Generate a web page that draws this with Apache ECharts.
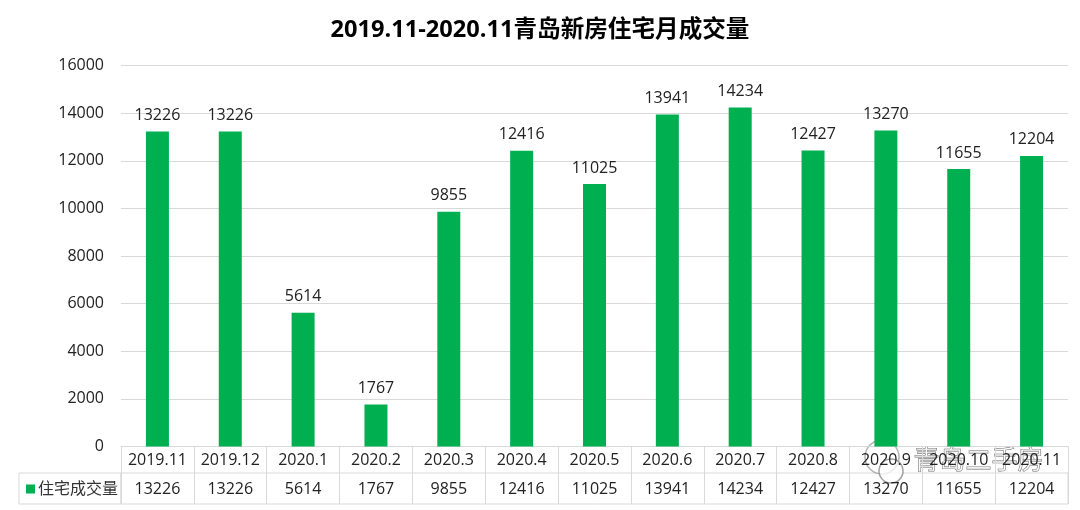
<!DOCTYPE html>
<html>
<head>
<meta charset="utf-8">
<style>
  html, body { margin: 0; padding: 0; background: #fff; }
  #main { width: 1080px; height: 510px; }
</style>
<script src="https://cdn.jsdelivr.net/npm/echarts@6/dist/echarts.min.js"></script>
</head>
<body>
<div id="main"></div>
<script>
const categories = ['2019.11', '2019.12', '2020.1', '2020.2', '2020.3', '2020.4', '2020.5', '2020.6', '2020.7', '2020.8', '2020.9', '2020.10', '2020.11'];
const sales = [13226, 13226, 5614, 1767, 9855, 12416, 11025, 13941, 14234, 12427, 13270, 11655, 12204];
const seriesName = '住宅成交量';
const titleText = '2019.11-2020.11青岛新房住宅月成交量';
const watermarkText = '青岛二手房';

const font = '"Open Sans", "Noto Sans CJK SC", sans-serif';
const lineColor = '#d9d9d9';
const textColor = '#222';

const myChart = echarts.init(document.getElementById('main'));

myChart.setOption({
    animation: false,
    textStyle: { fontFamily: font },
    title: {
        text: titleText,
        left: 'center',
        top: 13,
        textStyle: { fontFamily: font, fontSize: 23.6, fontWeight: 'bold', color: '#000' }
    },
    legend: {
        left: 26,
        top: 481,
        padding: 0,
        itemWidth: 9,
        itemHeight: 9,
        itemGap: 0,
        icon: 'rect',
        textStyle: { fontFamily: font, fontSize: 16, color: '#333', padding: [0, 0, 0, -2] },
        data: [seriesName]
    },
    grid: [
        { left: 121, right: 12, top: 65.5, height: 381 },
        { left: 121, right: 12, top: 473, height: 31, show: true, borderColor: lineColor, borderWidth: 1 },
        // empty cell that holds the legend at the left of the table
        { left: 19, width: 102, top: 473, height: 31, show: true, borderColor: lineColor, borderWidth: 1 }
    ],
    xAxis: [
        {
            type: 'category',
            gridIndex: 0,
            data: categories,
            axisLine: { lineStyle: { color: lineColor } },
            axisTick: { show: true, length: 27, lineStyle: { color: lineColor } },
            axisLabel: { interval: 0, margin: 6, fontSize: 16, color: textColor }
        },
        {
            type: 'category',
            gridIndex: 1,
            data: categories,
            axisLine: { show: false },
            axisTick: { show: false },
            splitLine: { show: true, interval: 0, lineStyle: { color: lineColor } },
            axisLabel: {
                interval: 0,
                inside: true,
                margin: 7,
                fontSize: 16,
                color: textColor,
                formatter: (value, index) => String(sales[index])
            }
        },
        { type: 'value', gridIndex: 2, show: false }
    ],
    yAxis: [
        {
            type: 'value',
            gridIndex: 0,
            min: 0,
            max: 16000,
            interval: 2000,
            axisLine: { show: false },
            axisTick: { show: false },
            splitLine: { lineStyle: { color: lineColor } },
            axisLabel: { margin: 17, fontSize: 16, color: textColor, formatter: (value) => String(value) }
        },
        { type: 'value', gridIndex: 1, show: false },
        { type: 'value', gridIndex: 2, show: false }
    ],
    series: [
        {
            name: seriesName,
            type: 'bar',
            xAxisIndex: 0,
            yAxisIndex: 0,
            data: sales,
            barWidth: 23,
            itemStyle: { color: '#00b050' },
            label: { show: true, position: 'top', distance: 8, fontSize: 16, color: textColor }
        }
    ],
    graphic: [
        {
            type: 'circle',
            silent: true,
            shape: { cx: 882, cy: 457, r: 17 },
            style: { fill: 'rgba(255,255,255,0.75)', stroke: 'rgba(170,170,170,0.9)', lineWidth: 1.5 }
        },
        {
            type: 'circle',
            silent: true,
            shape: { cx: 891, cy: 471, r: 12 },
            style: { fill: 'rgba(255,255,255,0.75)', stroke: 'rgba(150,150,150,0.9)', lineWidth: 1.5 }
        },
        {
            type: 'text',
            left: 913,
            top: 446,
            silent: true,
            style: {
                text: watermarkText,
                font: '26px "Noto Sans CJK SC", sans-serif',
                fill: 'rgba(255,255,255,0.6)',
                stroke: 'rgba(90,90,90,0.9)',
                lineWidth: 0.8
            }
        }
    ]
});

window.addEventListener('resize', () => myChart.resize());
</script>
</body>
</html>
